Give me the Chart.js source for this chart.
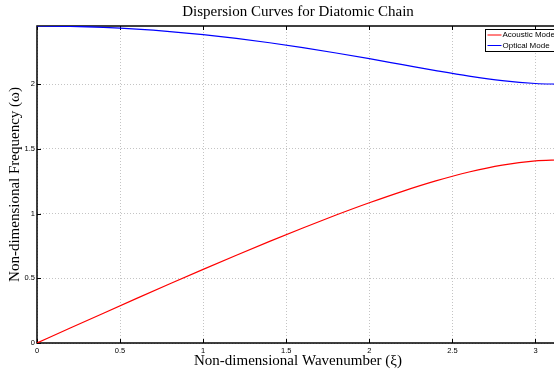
<!DOCTYPE html>
<html>
<head>
<meta charset="utf-8">
<script src="https://cdn.jsdelivr.net/npm/chart.js@4.4.0/dist/chart.umd.min.js"></script>
<style>
html, body { margin: 0; padding: 0; overflow: hidden; background: #fff; }
#wrap { width: 554px; height: 371px; overflow: hidden; }
</style>
</head>
<body>
<div id="wrap"><canvas id="dispersion_chart" width="562" height="371"></canvas></div>
<script>
// values
var wavenumber   = [0, 0.2, 0.4, 0.6, 0.8, 1.0, 1.2, 1.4, 1.6, 1.8, 2.0, 2.2, 2.4, 2.6, 2.8, 3.0, 3.1416];
var acousticMode = [0, 0.1154, 0.2304, 0.3447, 0.4577, 0.5692, 0.6786, 0.7853, 0.8889, 0.9886, 1.0834, 1.1719, 1.2522, 1.3214, 1.3749, 1.4072, 1.4142];
var opticalMode  = [2.4495, 2.4468, 2.4386, 2.4251, 2.4063, 2.3824, 2.3536, 2.3202, 2.2825, 2.2411, 2.1969, 2.1510, 2.1052, 2.0625, 2.0272, 2.0050, 2.0];
var xTickValues = [0, 0.5, 1, 1.5, 2, 2.5, 3];
var yTickValues = [0, 0.5, 1, 1.5, 2];
var seriesLabels = ['Acoustic Mode', 'Optical Mode'];
var seriesColors = ['#ff0000', '#0000ff'];

function toPoints(ys) {
    return wavenumber.map(function(x, i) { return {x: x, y: ys[i]}; });
}

var tickFont = {family: "'Liberation Sans', Arial, sans-serif", size: 7.5};
var serifFont = {family: "'Liberation Serif', 'Times New Roman', serif", size: 15, weight: 'normal'};

var framePlugin = {
    id: 'frame',
    beforeDatasetsDraw: function(chart) {
        var ctx = chart.ctx, a = chart.chartArea;
        var xs = chart.scales.x, ys = chart.scales.y;
        ctx.save();
        ctx.strokeStyle = '#000';
        ctx.lineWidth = 1;
        ctx.beginPath();
        xTickValues.forEach(function(v) {
            var px = Math.round(xs.getPixelForValue(v)) + 0.5;
            ctx.moveTo(px, a.bottom); ctx.lineTo(px, a.bottom - 4);
            ctx.moveTo(px, a.top); ctx.lineTo(px, a.top + 4);
        });
        yTickValues.forEach(function(v) {
            var py = Math.round(ys.getPixelForValue(v)) + 0.5;
            ctx.moveTo(a.left, py); ctx.lineTo(a.left + 4, py);
            ctx.moveTo(a.right, py); ctx.lineTo(a.right - 4, py);
        });
        ctx.stroke();
        ctx.lineWidth = 1.5;
        ctx.strokeRect(a.left, a.top, a.right - a.left, a.bottom - a.top);
        ctx.restore();
    },
    afterDraw: function(chart) {
        // legend box in the upper right corner
        var ctx = chart.ctx, a = chart.chartArea;
        var x0 = 485.5, y0 = 29.5, w = a.right - 3 - x0, h = 22;
        ctx.save();
        ctx.fillStyle = '#fff';
        ctx.fillRect(x0, y0, w, h);
        ctx.strokeStyle = '#000';
        ctx.lineWidth = 1;
        ctx.strokeRect(x0, y0, w, h);
        ctx.font = '8px ' + tickFont.family;
        ctx.textBaseline = 'middle';
        seriesLabels.forEach(function(lbl, i) {
            var yy = y0 + 5.5 + i * 10.5;
            ctx.strokeStyle = seriesColors[i];
            ctx.beginPath();
            ctx.moveTo(x0 + 2, yy); ctx.lineTo(x0 + 16, yy);
            ctx.stroke();
            ctx.fillStyle = '#000';
            ctx.fillText(lbl, x0 + 17, yy);
        });
        ctx.restore();
    }
};

function plainLabel(value) {
    return String(value);
}

var ctx = document.getElementById('dispersion_chart');
var chart = new Chart(ctx, {
    type: 'scatter',
    data: {
        datasets: [{
            label: seriesLabels[0],
            data: toPoints(acousticMode),
            borderColor: seriesColors[0],
            borderWidth: 1.2,
            showLine: true,
            pointRadius: 0,
            cubicInterpolationMode: 'monotone'
        }, {
            label: seriesLabels[1],
            data: toPoints(opticalMode),
            borderColor: seriesColors[1],
            borderWidth: 1.2,
            showLine: true,
            pointRadius: 0,
            cubicInterpolationMode: 'monotone'
        }]
    },
    options: {
        responsive: false,
        animation: false,
        layout: {padding: {right: 3, left: 0, top: 0, bottom: 0}},
        plugins: {
            legend: {display: false},
            tooltip: {enabled: false},
            title: {
                display: true,
                text: 'Dispersion Curves for Diatomic Chain',
                fullSize: false,
                color: '#000',
                font: serifFont,
                padding: {top: 3, bottom: 5}
            }
        },
        scales: {
            x: {
                type: 'linear',
                min: 0,
                max: 3.14159,
                afterBuildTicks: function(scale) {
                    scale.ticks = xTickValues.map(function(v) { return {value: v}; });
                },
                afterFit: function(scale) { scale.height = 28; },
                grid: {color: '#c4c4c4', lineWidth: 1, drawTicks: false},
                border: {display: false, dash: [1, 2]},
                ticks: {color: '#000', font: tickFont, padding: 3, maxRotation: 0, callback: plainLabel},
                title: {display: true, text: 'Non-dimensional Wavenumber (\u03BE)', color: '#000', font: serifFont, padding: {top: 0, bottom: 1}}
            },
            y: {
                type: 'linear',
                min: 0,
                max: 2.4495,
                afterBuildTicks: function(scale) {
                    scale.ticks = yTickValues.map(function(v) { return {value: v}; });
                },
                afterFit: function(scale) { scale.width = 37; },
                grid: {color: '#c4c4c4', lineWidth: 1, drawTicks: false},
                border: {display: false, dash: [1, 2]},
                ticks: {color: '#000', font: tickFont, padding: 2, callback: plainLabel},
                title: {display: true, text: 'Non-dimensional Frequency (\u03C9)', color: '#000', font: serifFont, padding: {top: 6, bottom: 0}}
            }
        }
    },
    plugins: [framePlugin]
});
</script>
</body>
</html>
